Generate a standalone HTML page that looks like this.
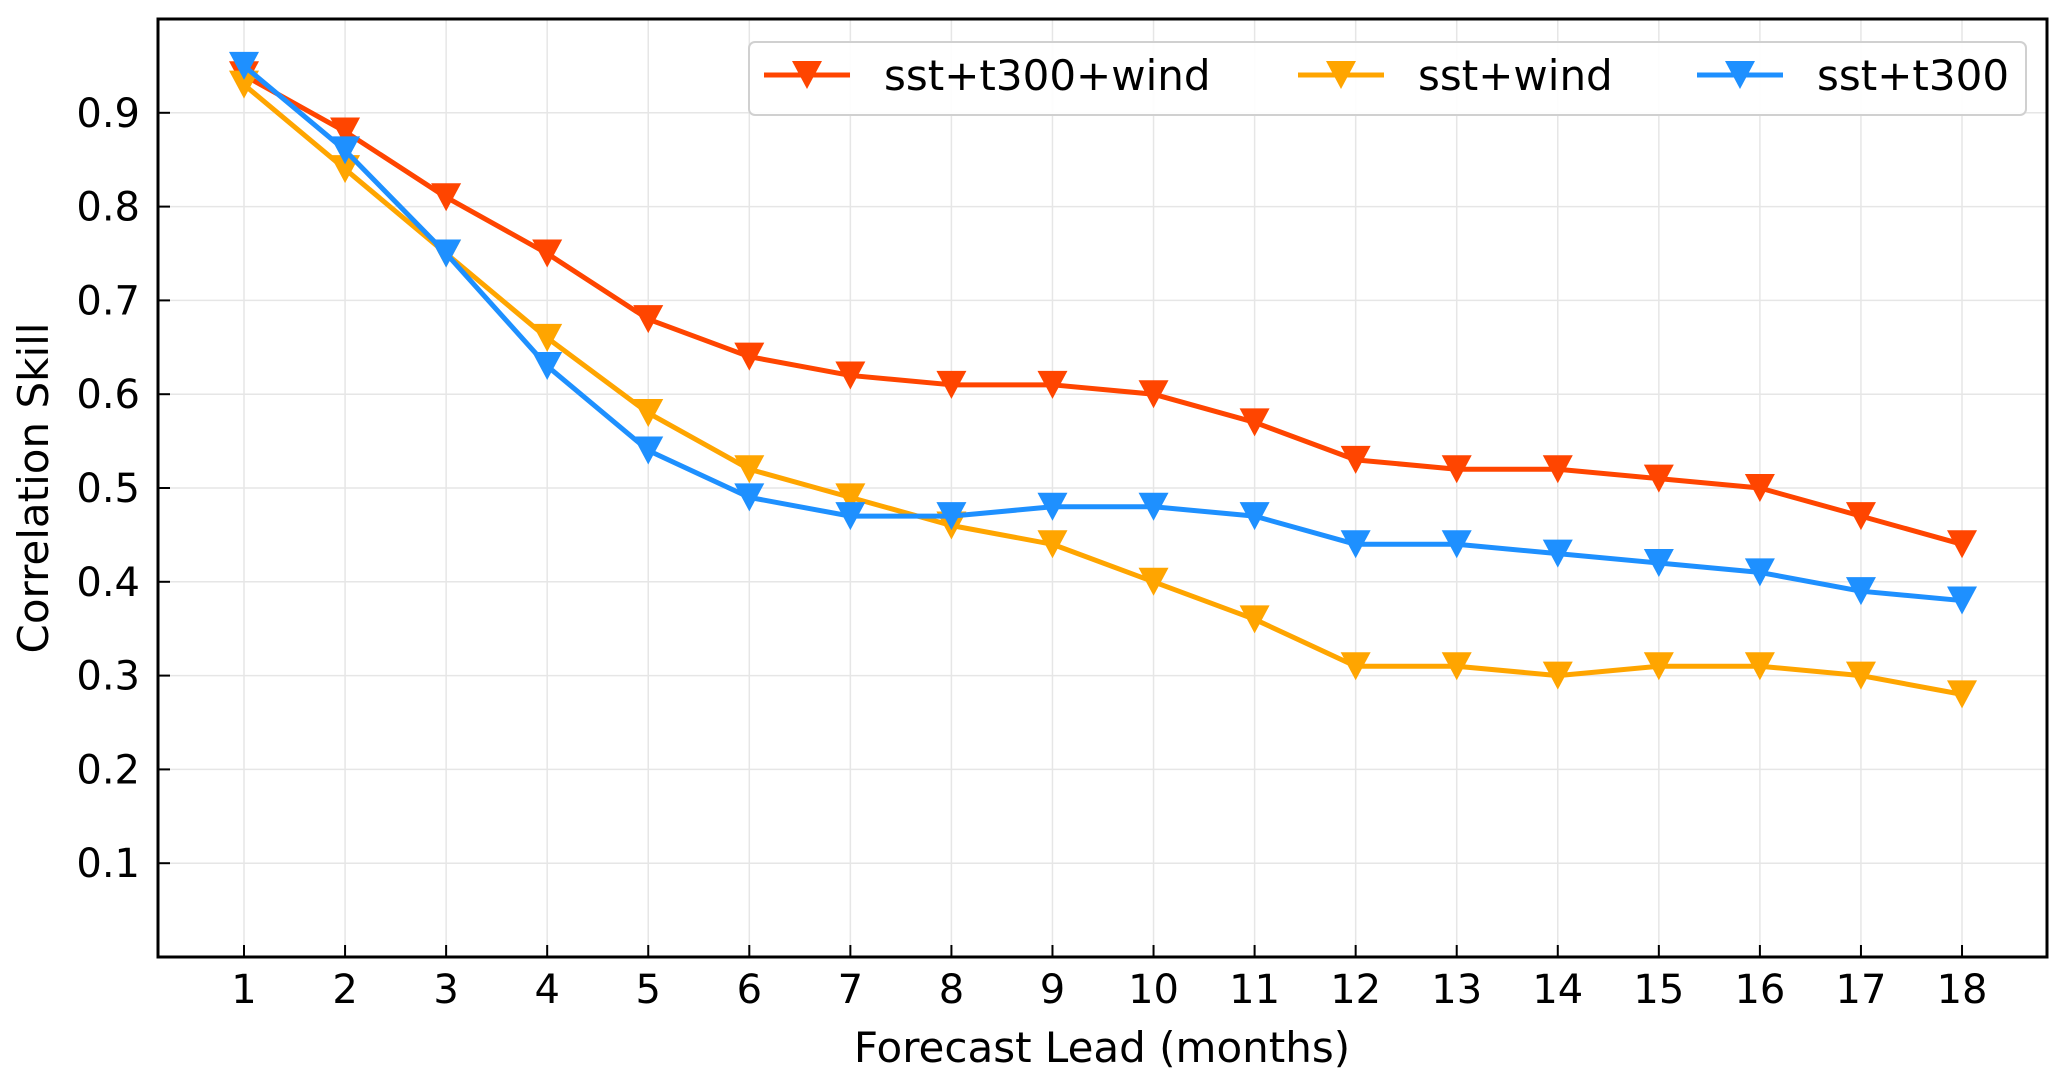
<!DOCTYPE html>
<html><head><meta charset="utf-8"><style>
html,body{margin:0;padding:0;background:#fff;}
svg{display:block;font-family:"DejaVu Sans","Liberation Sans",sans-serif;}
</style></head><body>
<svg id="chart" width="2067" height="1086"></svg>
<script>
const categories=[1,2,3,4,5,6,7,8,9,10,11,12,13,14,15,16,17,18];
const yTicks=[0.1,0.2,0.3,0.4,0.5,0.6,0.7,0.8,0.9];
const seriesNames=["sst+t300+wind","sst+wind","sst+t300"];
const sstT300Wind=[.94,.88,.81,.75,.68,.64,.62,.61,.61,.60,.57,.53,.52,.52,.51,.50,.47,.44];
const sstWind=[.93,.84,.75,.66,.58,.52,.49,.46,.44,.40,.36,.31,.31,.30,.31,.31,.30,.28];
const sstT300=[.95,.86,.75,.63,.54,.49,.47,.47,.48,.48,.47,.44,.44,.43,.42,.41,.39,.38];

const NS="http://www.w3.org/2000/svg";
const svg=document.getElementById('chart');
const L=158,R=2047,T=19,B=957;
const xs=v=>244+(v-1)*101.06;
const ys=v=>B-(v/1.0)*(B-T);
function mk(tag,attrs,parent){const e=document.createElementNS(NS,tag);for(const k in attrs)e.setAttribute(k,attrs[k]);(parent||svg).appendChild(e);return e;}

const grid=mk('g',{});


categories.forEach(c=>{const l=mk('line',{x1:xs(c),x2:xs(c),y1:T,y2:B,stroke:'#e6e6e6','stroke-width':1.5},grid);

});
yTicks.forEach(t=>{const l=mk('line',{x1:L,x2:R,y1:ys(t),y2:ys(t),stroke:'#e6e6e6','stroke-width':1.5},grid);

});

const xt=mk('g',{});


categories.forEach(c=>{mk('line',{x1:xs(c),x2:xs(c),y1:B,y2:B-12,stroke:'#000','stroke-width':2},xt);
const t=mk('text',{x:xs(c),y:1003,'text-anchor':'middle','font-size':40},xt);t.textContent=c;

});
const yt=mk('g',{});


yTicks.forEach(v=>{mk('line',{x1:L,x2:L+12,y1:ys(v),y2:ys(v),stroke:'#000','stroke-width':2},yt);
const t=mk('text',{x:140,y:ys(v)+14,'text-anchor':'end','font-size':40},yt);t.textContent=v.toFixed(1);

});

const colors=['#FF4500','#FFA500','#1E90FF'];
const data=[sstT300Wind,sstWind,sstT300];
function tri(x,y,g,col){return mk('path',{d:`M${x-15},${y-14} L${x+15},${y-14} L${x},${y+14} Z`,fill:col},g);}
data.forEach((arr,i)=>{
 const g=mk('g',{});
 
 
 mk('polyline',{points:arr.map((v,j)=>xs(categories[j])+','+ys(v)).join(' '),fill:'none',stroke:colors[i],'stroke-width':5,'stroke-linejoin':'round'},g);
 arr.forEach((v,j)=>{const m=tri(xs(categories[j]),ys(v),g,colors[i]);
 
 });
});

mk('rect',{x:L,y:T,width:R-L,height:B-T,fill:'none',stroke:'#000','stroke-width':3});

const yl=mk('text',{x:0,y:0,transform:'translate(48,488) rotate(-90)','text-anchor':'middle','font-size':42});
yl.textContent='Correlation Skill';


const xl=mk('text',{x:1102,y:1062,'text-anchor':'middle','font-size':42});
xl.textContent='Forecast Lead (months)';



const lg=mk('g',{});


mk('rect',{x:749,y:42,width:1277,height:73,rx:6,fill:'#fff','fill-opacity':0.9,stroke:'#d0d0d0','stroke-width':2},lg);
const lx=[764,1298,1697];
seriesNames.forEach((n,i)=>{
 const e=mk('g',{},lg);
 
 
 mk('line',{x1:lx[i],x2:lx[i]+86,y1:75,y2:75,stroke:colors[i],'stroke-width':5},e);
 tri(lx[i]+43,75,e,colors[i]);
 const t=mk('text',{x:lx[i]+120,y:90,'font-size':42},e);t.textContent=n;
});
</script>
</body></html>
